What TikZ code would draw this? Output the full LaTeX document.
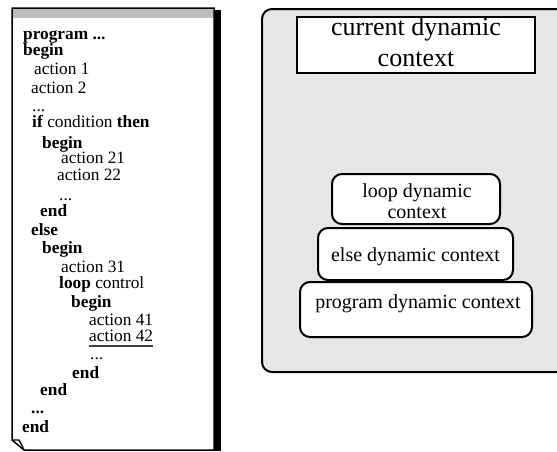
\documentclass[tikz,border=0pt]{standalone}
\usepackage{fontspec}
\setmainfont{Liberation Serif}
\definecolor{panelgray}{HTML}{E6E6E6}
\definecolor{bargray}{HTML}{BEBEBE}
\begin{document}
\begin{tikzpicture}[x=1pt,y=-1pt,
  code/.style={anchor=base west, inner sep=0pt, font=\fontsize{17.3}{17}\selectfont},
  ctx/.style={draw, line width=2pt, rounded corners=10pt, fill=white, inner sep=0pt},
  ctxlbl/.style={anchor=base, inner sep=0pt, font=\fontsize{20}{21}\selectfont},
  curlbl/.style={anchor=base, inner sep=0pt, font=\fontsize{26}{28}\selectfont},
]
\clip (0,0) rectangle (557,451);
% ---- program listing sheet ----
\fill[black] (213.5,10) rectangle (221,451);
\fill[bargray] (12,8) rectangle (214,18);
\draw[line width=1.5pt, line join=miter] (12,8) -- (214,8) -- (214,450) -- (24,450) -- (12,440) -- cycle;
\draw[line width=1.3pt] (12,440) -- (19,440) .. controls (21,443) and (22,446) .. (24,450);

\node[code] (l1)  at (23,39)  {\textbf{program ...}};
\node[code] (l2)  at (23,55)  {\textbf{begin}};
\node[code] (l3)  at (34,74)  {action 1};
\node[code] (l4)  at (31,93)  {action 2};
\node[code] (l5)  at (32,111) {...};
\node[code] (l6)  at (32,127) {\textbf{if} condition \textbf{then}};
\node[code] (l7)  at (42,148) {\textbf{begin}};
\node[code] (l8)  at (61,163) {action 21};
\node[code] (l9)  at (57,180) {action 22};
\node[code] (l10) at (59,200) {...};
\node[code] (l11) at (40,216) {\textbf{end}};
\node[code] (l12) at (31,235) {\textbf{else}};
\node[code] (l13) at (42,253) {\textbf{begin}};
\node[code] (l14) at (61,272) {action 31};
\node[code] (l15) at (59,288) {\textbf{loop} control};
\node[code] (l16) at (71,307) {\textbf{begin}};
\node[code] (l17) at (89,325) {action 41};
\node[code] (l18) at (89,341) {action 42};
\node[code] (l19) at (90,359) {...};
\node[code] (l20) at (72,378) {\textbf{end}};
\node[code] (l21) at (40,395) {\textbf{end}};
\node[code] (l22) at (31,413) {\textbf{...}};
\node[code] (l23) at (22,432) {\textbf{end}};
\draw[line width=1.3pt, black!75] ([yshift=-5pt]l18.base west) -- ([yshift=-5pt]l18.base east);

% ---- dynamic context panel ----
\draw[line width=2pt, fill=panelgray, rounded corners=10pt] (600,9) rectangle (262,372);
\node[draw, line width=1.6pt, fill=white, minimum width=238pt, minimum height=56pt, inner sep=0pt] (cur) at (416,45) {};
\node[curlbl] (cur1) at (416,35) {current dynamic};
\node[curlbl] (cur2) at (416,66) {context};

\node[ctx, minimum width=168pt, minimum height=50pt] (loop) at (416,199) {};
\node[ctxlbl] (loop1) at (417,197) {loop dynamic};
\node[ctxlbl] (loop2) at (417,218) {context};

\node[ctx, minimum width=195pt, minimum height=52pt] (else) at (415.5,254) {};
\node[ctxlbl] (else1) at (415.5,261) {else dynamic context};

\node[ctx, minimum width=232pt, minimum height=55pt] (prog) at (416,309.5) {};
\node[ctxlbl] (prog1) at (418,308) {program dynamic context};
\end{tikzpicture}
\end{document}
